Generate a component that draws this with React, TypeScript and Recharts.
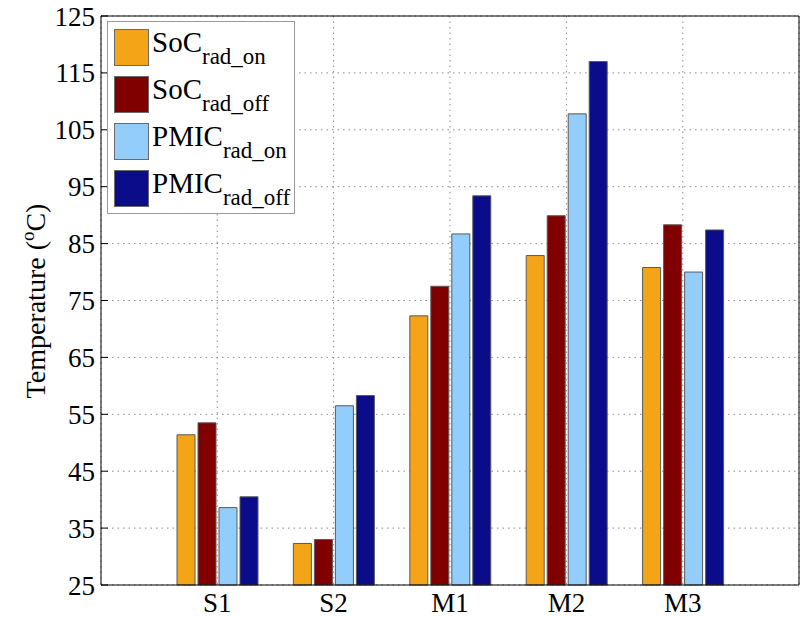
import { Bar, BarChart, CartesianGrid, Legend, XAxis, YAxis } from 'recharts'

const categories = ['S1', 'S2', 'M1', 'M2', 'M3']
const socRadOn = [51.4, 32.3, 72.3, 82.9, 80.8]
const socRadOff = [53.5, 33.0, 77.5, 89.9, 88.3]
const pmicRadOn = [38.6, 56.5, 86.7, 107.8, 80.0]
const pmicRadOff = [40.5, 58.3, 93.4, 117.0, 87.4]
const yTicks = [25, 35, 45, 55, 65, 75, 85, 95, 105, 115, 125]

const FONT = '"Liberation Serif", "Times New Roman", serif'

const series = [
  { key: 'socOn', main: 'SoC', sub: 'rad_on', color: '#F4A417' },
  { key: 'socOff', main: 'SoC', sub: 'rad_off', color: '#800000' },
  { key: 'pmicOn', main: 'PMIC', sub: 'rad_on', color: '#93CDFB' },
  { key: 'pmicOff', main: 'PMIC', sub: 'rad_off', color: '#0B0C89' },
]

const data = categories.map((name, i) => ({
  name,
  socOn: socRadOn[i],
  socOff: socRadOff[i],
  pmicOn: pmicRadOn[i],
  pmicOff: pmicRadOff[i],
}))

function LegendBox() {
  return (
    <svg width={188} height={193} style={{ display: 'block' }}>
      <rect x={0.5} y={0.5} width={187} height={192} fill="#fff" stroke="#9a9a9a" />
      {series.map((s, i) => (
        <g key={s.key}>
          <rect x={7.5} y={8.5 + i * 47} width={34} height={36} fill={s.color} stroke="#6a6a6a" />
          <text x={45} y={31 + i * 47} fontFamily={FONT} fontSize={29} fill="#000">
            {s.main}
            <tspan fontSize={23} dy={12}>
              {s.sub}
            </tspan>
          </text>
        </g>
      ))}
    </svg>
  )
}

function YLabel() {
  return (
    <text
      x={45}
      y={301}
      transform="rotate(-90, 45, 301)"
      textAnchor="middle"
      fontFamily={FONT}
      fontSize={28}
      fill="#000"
    >
      Temperature (
      <tspan fontSize={19} dy={-11}>
        o
      </tspan>
      <tspan dy={11}>C)</tspan>
    </text>
  )
}

export default function App() {
  return (
    <div style={{ position: 'absolute', left: 0, top: 0, width: 804, height: 617, background: '#fff' }}>
      <BarChart
        width={804}
        height={617}
        data={data}
        margin={{ top: 15, right: 0, bottom: 0, left: 0 }}
        barSize={18}
        barGap={3}
      >
        <CartesianGrid stroke="#8c8c8c" strokeDasharray="1.5 4" />
        <XAxis
          dataKey="name"
          height={32}
          padding={{ left: 58, right: 58 }}
          tickLine={false}
          tickSize={0}
          tickMargin={8}
          axisLine={{ stroke: '#000' }}
          tick={{ fontFamily: FONT, fontSize: 27, fill: '#000' }}
        />
        <XAxis xAxisId="top" dataKey="name" orientation="top" height={1} tick={false} tickLine={false} axisLine={{ stroke: '#000' }} />
        <YAxis
          width={101}
          domain={[25, 125]}
          ticks={yTicks}
          interval={0}
          tickSize={-7}
          tickMargin={13}
          tickLine={{ stroke: '#000' }}
          axisLine={{ stroke: '#000' }}
          tick={{ fontFamily: FONT, fontSize: 27, fill: '#000' }}
          label={<YLabel />}
        />
        <YAxis
          yAxisId="right"
          orientation="right"
          width={5}
          domain={[25, 125]}
          ticks={yTicks}
          interval={0}
          tick={false}
          tickSize={-7}
          tickLine={{ stroke: '#000' }}
          axisLine={{ stroke: '#000' }}
        />
        <Legend
          layout="horizontal"
          verticalAlign="middle"
          align="center"
          wrapperStyle={{ left: 107, top: 21, width: 188, height: 193 }}
          content={() => <LegendBox />}
        />
        {series.map((s) => (
          <Bar
            key={s.key}
            dataKey={s.key}
            fill={s.color}
            stroke="#5a5a5a"
            strokeWidth={1}
            isAnimationActive={false}
          />
        ))}
      </BarChart>
    </div>
  )
}
